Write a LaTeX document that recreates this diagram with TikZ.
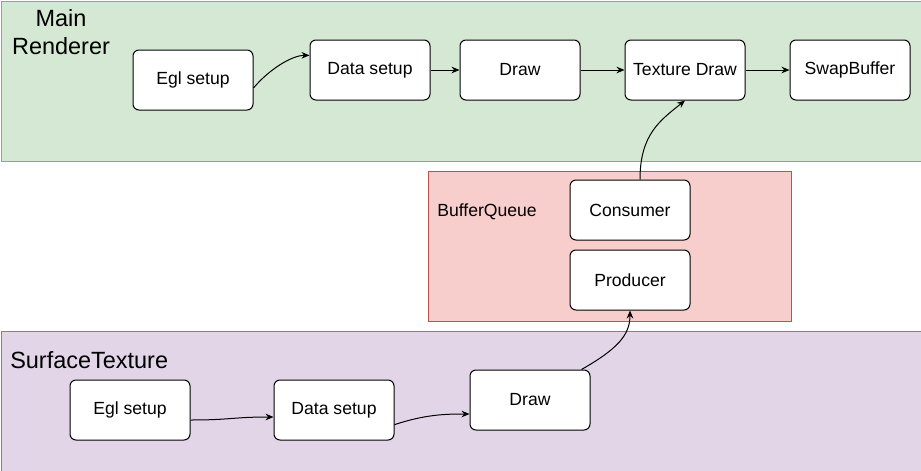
\documentclass[tikz,border=0pt]{standalone}
\usepackage{fontspec}
\setmainfont{Liberation Sans}
\usetikzlibrary{arrows.meta,calc}
\definecolor{gfill}{HTML}{D5E8D4}\definecolor{gline}{HTML}{82B366}
\definecolor{rfill}{HTML}{F8CECC}\definecolor{rline}{HTML}{B85450}
\definecolor{pfill}{HTML}{E1D5E7}\definecolor{pline}{HTML}{9673A6}
\tikzset{
  box/.style={draw=black, fill=white, rounded corners=4.5pt, minimum width=90pt, minimum height=45pt, inner sep=0pt, font=\fontsize{13.2}{15}\selectfont, line width=0.75pt},
  cont/.style={line width=0.75pt, inner sep=0pt, anchor=north west},
  arr/.style={-{Stealth[length=6pt,width=5pt]}, line width=0.75pt},
  title/.style={font=\fontsize{17.6}{20.5}\selectfont, inner sep=0pt, align=center},
  lbl/.style={font=\fontsize{13.2}{15}\selectfont, inner sep=0pt, anchor=west}
}
\begin{document}
\begin{tikzpicture}[x=0.75pt,y=-0.75pt]
\useasboundingbox (0,0) rectangle (921,471);
% containers
\node[cont, draw=gline, fill=gfill, minimum width=690pt, minimum height=120pt] (main) at (0.5,0.5) {};
\node[cont, draw=rline, fill=rfill, minimum width=272.25pt, minimum height=112.5pt] (bq) at (427.5,170.5) {};
\node[cont, draw=pline, fill=pfill, minimum width=690pt, minimum height=105pt] (st) at (0.5,330.5) {};
% titles
\node[title] (tmain) at (61,32) {Main\\Renderer};
\node[title, anchor=west] (tst) at (10,360) {SurfaceTexture};
\node[lbl] (tbq) at (437,212) {BufferQueue};
% top row
\node[box] (egl1) at (193,80) {Egl setup};
\node[box] (data1) at (370,70) {Data setup};
\node[box] (draw1) at (520,70) {Draw};
\node[box] (tex) at (685,70) {Texture Draw};
\node[box] (swap) at (850,70) {SwapBuffer};
% buffer queue
\node[box] (cons) at (630,210) {Consumer};
\node[box] (prod) at (630,280) {Producer};
% bottom row
\node[box] (egl2) at (130,410) {Egl setup};
\node[box] (data2) at (334,410) {Data setup};
\node[box] (draw2) at (530,400) {Draw};
% edges
\draw[arr] ([yshift=-6pt]egl1.east) .. controls ++(15,-18) and ++(-18,0) .. ([yshift=11pt]data1.west);
\draw[arr] (data1.east) -- (draw1.west);
\draw[arr] (draw1.east) -- (tex.west);
\draw[arr] (tex.east) -- (swap.west);
\draw[arr] ([xshift=7.5pt]cons.north) .. controls ++(0,-45) and ++(-25,20) .. ([xshift=0pt]tex.south);
\draw[arr] ([yshift=-7.5pt]egl2.east) .. controls ++(40,0) and ++(-40,0) .. ([yshift=-5.25pt]data2.west);
\draw[arr] ([yshift=-11pt]data2.east) .. controls ++(30,-10) and ++(-25,0) .. ([yshift=-10.5pt]draw2.west);
\draw[arr] ([xshift=-6.75pt]draw2.north east) .. controls ++(35,-20) and ++(0,25) .. (prod.south);
\end{tikzpicture}
\end{document}
